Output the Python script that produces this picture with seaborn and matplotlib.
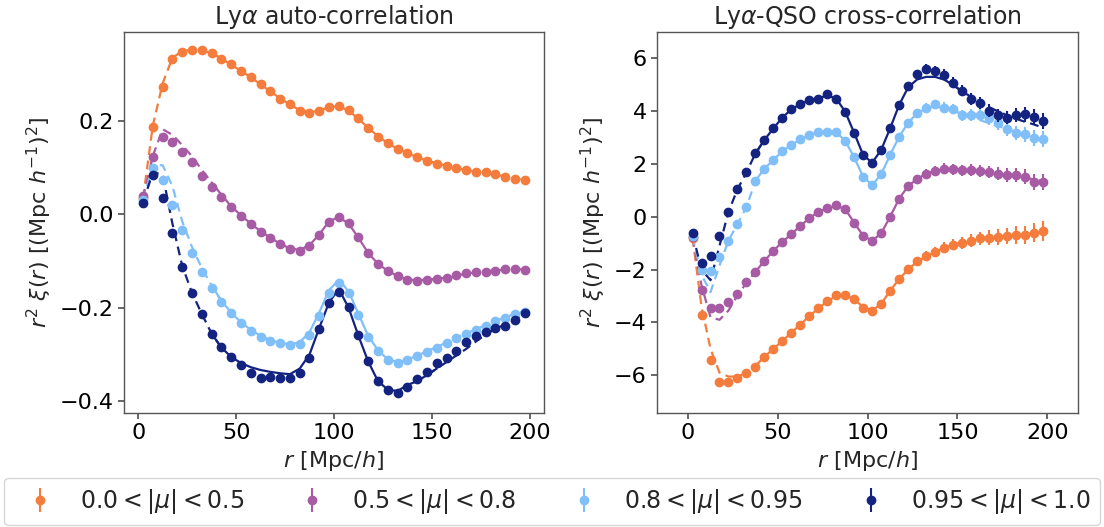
import matplotlib
matplotlib.use("Agg")
import matplotlib.pyplot as plt
import numpy as np
import pandas as pd
import seaborn as sns

# bin centres in r [Mpc/h]
r_bins = [2.5, 7.5, 12.5, 17.5, 22.5, 27.5, 32.5, 37.5, 42.5, 47.5,
          52.5, 57.5, 62.5, 67.5, 72.5, 77.5, 82.5, 87.5, 92.5, 97.5,
          102.5, 107.5, 112.5, 117.5, 122.5, 127.5, 132.5, 137.5, 142.5, 147.5,
          152.5, 157.5, 162.5, 167.5, 172.5, 177.5, 182.5, 187.5, 192.5, 197.5]

mu_labels = [r"$0.0 < |\mu| < 0.5$", r"$0.5 < |\mu| < 0.8$",
             r"$0.8 < |\mu| < 0.95$", r"$0.95 < |\mu| < 1.0$"]
colors = ["#f47c3c", "#a65ba4", "#80bff8", "#13237f"]

# ---- Lya auto-correlation: data ----
auto_w0 = [0.035, 0.186, 0.273, 0.332, 0.348, 0.351, 0.351, 0.346, 0.332, 0.321,
           0.307, 0.294, 0.278, 0.264, 0.247, 0.235, 0.222, 0.216, 0.222, 0.230,
           0.232, 0.223, 0.205, 0.185, 0.166, 0.152, 0.139, 0.132, 0.122, 0.115,
           0.108, 0.103, 0.100, 0.095, 0.090, 0.090, 0.086, 0.080, 0.076, 0.073]
auto_w1 = [0.040, 0.123, 0.165, 0.155, 0.134, 0.111, 0.083, 0.059, 0.036, 0.015,
           -0.003, -0.021, -0.037, -0.050, -0.064, -0.074, -0.078, -0.068, -0.044, -0.016,
           -0.005, -0.019, -0.049, -0.083, -0.107, -0.121, -0.133, -0.141, -0.143, -0.141,
           -0.139, -0.136, -0.130, -0.126, -0.124, -0.124, -0.121, -0.118, -0.116, -0.119]
auto_w2 = [0.030, 0.100, 0.073, 0.021, -0.034, -0.082, -0.124, -0.158, -0.188, -0.212,
           -0.233, -0.249, -0.262, -0.270, -0.276, -0.280, -0.277, -0.258, -0.218, -0.168,
           -0.146, -0.168, -0.215, -0.262, -0.292, -0.312, -0.317, -0.312, -0.303, -0.294,
           -0.285, -0.275, -0.265, -0.257, -0.247, -0.238, -0.228, -0.221, -0.214, -0.208]
auto_w3 = [0.025, 0.084, 0.034, -0.039, -0.113, -0.169, -0.213, -0.255, -0.283, -0.305,
           -0.322, -0.339, -0.350, -0.349, -0.351, -0.351, -0.340, -0.307, -0.246, -0.190,
           -0.167, -0.199, -0.258, -0.313, -0.357, -0.376, -0.382, -0.369, -0.352, -0.337,
           -0.319, -0.308, -0.292, -0.274, -0.260, -0.251, -0.244, -0.239, -0.226, -0.212]

# ---- Lya auto-correlation: best-fit model ----
auto_m0 = [0.035, 0.190, 0.280, 0.335, 0.349, 0.352, 0.350, 0.345, 0.333, 0.320,
           0.307, 0.293, 0.278, 0.263, 0.248, 0.235, 0.223, 0.218, 0.222, 0.229,
           0.231, 0.222, 0.204, 0.185, 0.167, 0.152, 0.140, 0.131, 0.122, 0.115,
           0.109, 0.104, 0.099, 0.095, 0.091, 0.088, 0.085, 0.081, 0.077, 0.074]
auto_m1 = [0.035, 0.125, 0.182, 0.170, 0.148, 0.124, 0.095, 0.068, 0.042, 0.017,
           -0.002, -0.020, -0.036, -0.050, -0.063, -0.073, -0.076, -0.066, -0.043, -0.015,
           -0.006, -0.020, -0.050, -0.083, -0.106, -0.121, -0.132, -0.139, -0.141, -0.140,
           -0.138, -0.135, -0.131, -0.127, -0.124, -0.122, -0.120, -0.118, -0.117, -0.118]
auto_m2 = [0.030, 0.105, 0.105, 0.060, -0.015, -0.070, -0.115, -0.152, -0.185, -0.210,
           -0.231, -0.247, -0.260, -0.269, -0.275, -0.278, -0.274, -0.252, -0.210, -0.162,
           -0.140, -0.165, -0.213, -0.260, -0.291, -0.310, -0.316, -0.311, -0.302, -0.293,
           -0.284, -0.274, -0.264, -0.255, -0.246, -0.237, -0.228, -0.220, -0.213, -0.206]
auto_m3 = [0.025, 0.090, 0.085, -0.020, -0.110, -0.168, -0.213, -0.255, -0.285, -0.305,
           -0.318, -0.327, -0.333, -0.337, -0.340, -0.342, -0.330, -0.300, -0.243, -0.188,
           -0.160, -0.200, -0.260, -0.315, -0.357, -0.375, -0.378, -0.365, -0.357, -0.344,
           -0.330, -0.316, -0.302, -0.288, -0.272, -0.257, -0.245, -0.235, -0.224, -0.212]

# ---- Lya-QSO cross-correlation: data ----
cross_w0 = [-0.80, -3.72, -5.43, -6.25, -6.25, -6.12, -5.93, -5.68, -5.30, -5.02,
            -4.70, -4.39, -4.08, -3.76, -3.47, -3.18, -2.97, -2.97, -3.12, -3.45,
            -3.57, -3.31, -2.80, -2.36, -1.99, -1.68, -1.49, -1.33, -1.17, -1.05,
            -0.98, -0.91, -0.82, -0.79, -0.76, -0.73, -0.69, -0.69, -0.61, -0.53]
cross_w1 = [-0.78, -2.78, -3.47, -3.47, -3.22, -2.93, -2.46, -2.08, -1.67, -1.29,
            -0.95, -0.66, -0.34, -0.06, 0.19, 0.32, 0.44, 0.29, -0.23, -0.73,
            -0.91, -0.63, 0.00, 0.68, 1.16, 1.43, 1.64, 1.74, 1.83, 1.80,
            1.77, 1.77, 1.74, 1.70, 1.64, 1.58, 1.58, 1.52, 1.33, 1.33]
cross_w2 = [-0.73, -2.02, -2.06, -1.54, -0.92, -0.28, 0.37, 1.36, 1.83, 2.15,
            2.49, 2.72, 2.93, 3.09, 3.20, 3.22, 3.22, 2.88, 2.25, 1.52,
            1.20, 1.61, 2.34, 3.03, 3.56, 3.94, 4.13, 4.26, 4.14, 4.08,
            3.85, 3.85, 3.85, 3.73, 3.54, 3.32, 3.18, 3.12, 2.99, 2.94]
cross_w3 = [-0.63, -1.74, -1.49, -0.73, 0.19, 1.04, 1.68, 2.40, 2.91, 3.35,
            3.76, 4.07, 4.26, 4.42, 4.48, 4.65, 4.48, 3.98, 3.18, 2.34,
            2.05, 2.53, 3.35, 4.23, 4.96, 5.41, 5.60, 5.52, 5.39, 5.08,
            4.77, 4.46, 4.32, 4.02, 3.85, 3.76, 3.85, 3.88, 3.79, 3.63]

cross_e0 = [0.05, 0.06, 0.07, 0.07, 0.08, 0.08, 0.08, 0.09, 0.09, 0.09,
            0.10, 0.10, 0.10, 0.11, 0.11, 0.11, 0.12, 0.12, 0.12, 0.13,
            0.13, 0.14, 0.14, 0.15, 0.16, 0.17, 0.18, 0.19, 0.20, 0.22,
            0.23, 0.25, 0.26, 0.28, 0.29, 0.31, 0.33, 0.34, 0.36, 0.38]
cross_e1 = [0.05, 0.05, 0.06, 0.06, 0.07, 0.07, 0.07, 0.08, 0.08, 0.08,
            0.09, 0.09, 0.09, 0.10, 0.10, 0.10, 0.11, 0.11, 0.11, 0.12,
            0.12, 0.13, 0.13, 0.14, 0.15, 0.16, 0.17, 0.18, 0.19, 0.20,
            0.21, 0.22, 0.23, 0.24, 0.25, 0.26, 0.27, 0.28, 0.30, 0.31]
cross_e2 = [0.05, 0.05, 0.06, 0.06, 0.07, 0.07, 0.07, 0.08, 0.08, 0.08,
            0.09, 0.09, 0.09, 0.10, 0.10, 0.10, 0.11, 0.11, 0.11, 0.12,
            0.12, 0.13, 0.13, 0.14, 0.15, 0.16, 0.17, 0.18, 0.19, 0.20,
            0.21, 0.22, 0.23, 0.24, 0.25, 0.26, 0.27, 0.28, 0.29, 0.30]
cross_e3 = [0.05, 0.05, 0.06, 0.06, 0.07, 0.07, 0.07, 0.08, 0.08, 0.08,
            0.09, 0.09, 0.09, 0.10, 0.10, 0.10, 0.11, 0.11, 0.11, 0.12,
            0.12, 0.13, 0.13, 0.14, 0.15, 0.16, 0.17, 0.18, 0.19, 0.20,
            0.21, 0.22, 0.23, 0.24, 0.25, 0.26, 0.27, 0.28, 0.29, 0.30]

# ---- Lya-QSO cross-correlation: best-fit model ----
cross_m0 = [-0.80, -3.40, -5.00, -5.90, -6.05, -6.05, -5.90, -5.65, -5.30, -5.00,
            -4.70, -4.39, -4.08, -3.76, -3.47, -3.20, -3.00, -2.97, -3.12, -3.42,
            -3.55, -3.30, -2.80, -2.36, -2.00, -1.70, -1.50, -1.33, -1.18, -1.06,
            -0.98, -0.91, -0.84, -0.79, -0.75, -0.72, -0.69, -0.66, -0.62, -0.58]
cross_m1 = [-0.80, -2.60, -3.80, -3.90, -3.55, -2.98, -2.50, -2.08, -1.67, -1.29,
            -0.95, -0.66, -0.34, -0.06, 0.19, 0.32, 0.42, 0.29, -0.22, -0.72,
            -0.90, -0.63, 0.00, 0.68, 1.16, 1.43, 1.63, 1.74, 1.80, 1.80,
            1.78, 1.76, 1.73, 1.69, 1.64, 1.58, 1.53, 1.48, 1.42, 1.36]
cross_m2 = [-0.75, -2.20, -2.85, -1.85, -0.90, -0.28, 0.37, 1.36, 1.83, 2.15,
            2.49, 2.72, 2.93, 3.09, 3.20, 3.22, 3.20, 2.88, 2.25, 1.52,
            1.20, 1.61, 2.34, 3.03, 3.56, 3.92, 4.10, 4.18, 4.12, 4.02,
            3.90, 3.78, 3.66, 3.55, 3.44, 3.33, 3.22, 3.12, 3.02, 2.92]
cross_m3 = [-0.65, -2.00, -2.40, -1.10, 0.19, 1.04, 1.68, 2.40, 2.91, 3.35,
            3.76, 4.07, 4.26, 4.42, 4.48, 4.60, 4.48, 3.98, 3.18, 2.34,
            2.05, 2.53, 3.35, 4.23, 4.90, 5.20, 5.30, 5.30, 5.20, 5.00,
            4.75, 4.55, 4.35, 4.15, 4.00, 3.85, 3.72, 3.60, 3.50, 3.38]

auto_data = [auto_w0, auto_w1, auto_w2, auto_w3]
auto_model = [auto_m0, auto_m1, auto_m2, auto_m3]
cross_data = [cross_w0, cross_w1, cross_w2, cross_w3]
cross_model = [cross_m0, cross_m1, cross_m2, cross_m3]
cross_err = [cross_e0, cross_e1, cross_e2, cross_e3]

R_FIT_MIN = 40.0
R_FIT_MAX = 150.0

sns.set_theme(style="ticks", rc={
    "axes.edgecolor": "#555555",
    "axes.linewidth": 1.0,
    "xtick.color": "#555555",
    "ytick.color": "#555555",
    "xtick.labelcolor": "black",
    "ytick.labelcolor": "black",
    "xtick.major.size": 4,
    "ytick.major.size": 4,
    "xtick.labelsize": 16,
    "ytick.labelsize": 16,
    "axes.labelsize": 16,
    "axes.titlesize": 17,
    "legend.fontsize": 17,
    "mathtext.fontset": "dejavusans",
})
plt.rcParams["font.family"] = ["DejaVu Sans"]

fig = plt.figure(figsize=(11.04, 5.27), dpi=100)
ax_auto = fig.add_axes([0.1123, 0.2163, 0.3804, 0.7230])
ax_cross = fig.add_axes([0.5951, 0.2163, 0.3813, 0.7230])


def draw_model(ax, r, model, color):
    df = pd.DataFrame({"r": r, "m": model})
    inner = df[(df.r >= R_FIT_MIN - 5) & (df.r <= R_FIT_MAX + 5)]
    low = df[df.r <= R_FIT_MIN + 5]
    high = df[df.r >= R_FIT_MAX - 5]
    sns.lineplot(data=inner, x="r", y="m", ax=ax, color=color, lw=1.6, legend=False, sort=False)
    for part in (low, high):
        sns.lineplot(data=part, x="r", y="m", ax=ax, color=color, lw=1.6, legend=False,
                     sort=False, linestyle=(0, (4, 2.5)))


handles = []
for i in range(4):
    ax_auto.errorbar(r_bins, auto_data[i], yerr=None, fmt="o", ms=6, color=colors[i], zorder=2 + i)
    draw_model(ax_auto, r_bins, auto_model[i], colors[i])

    h = ax_cross.errorbar(r_bins, cross_data[i], yerr=cross_err[i], fmt="o", ms=6,
                          color=colors[i], elinewidth=1.5, zorder=2 + i, label=mu_labels[i])
    draw_model(ax_cross, r_bins, cross_model[i], colors[i])
    handles.append(h)

ax_auto.set_xlim(-7.25, 207.25)
ax_auto.set_ylim(-0.425, 0.39)
ax_auto.set_yticks([-0.4, -0.2, 0.0, 0.2])
ax_auto.set_xticks([0, 50, 100, 150, 200])
ax_auto.set_title(r"Ly$\alpha$ auto-correlation")
ax_auto.set_xlabel(r"$r\ [\mathrm{Mpc}/h]$")
ax_auto.set_ylabel(r"$r^2\ \xi(r)\ [(\mathrm{Mpc}\ h^{-1})^2]$")

ax_cross.set_xlim(-17.3, 217.1)
ax_cross.set_ylim(-7.43, 7.0)
ax_cross.set_yticks([-6, -4, -2, 0, 2, 4, 6])
ax_cross.set_xticks([0, 50, 100, 150, 200])
ax_cross.set_title(r"Ly$\alpha$-QSO cross-correlation")
ax_cross.set_xlabel(r"$r\ [\mathrm{Mpc}/h]$")
ax_cross.set_ylabel(r"$r^2\ \xi(r)\ [(\mathrm{Mpc}\ h^{-1})^2]$")

for ax in (ax_auto, ax_cross):
    for side in ("top", "right"):
        ax.spines[side].set_visible(True)

fig.legend(handles, mu_labels, loc="lower center", ncol=4, mode="expand",
           bbox_to_anchor=(0.004, 0.003, 0.992, 0.07), frameon=True,
           handlelength=2.2, handletextpad=0.6, borderaxespad=0.0)

fig.savefig("out.png", dpi=100)
